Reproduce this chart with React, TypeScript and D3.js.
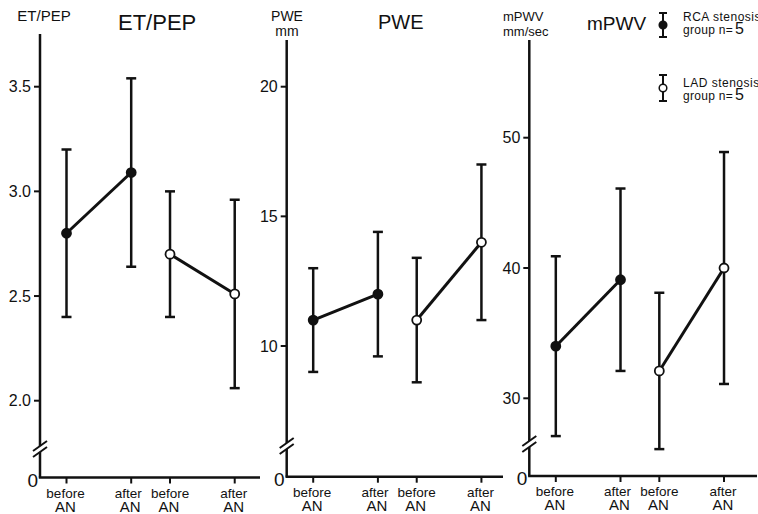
import React, { useRef, useEffect } from 'react';
import * as d3 from 'd3';

// point order in every panel: RCA before, RCA after, LAD before, LAD after
const groups = ['RCA', 'RCA', 'LAD', 'LAD'];
const xTopLabels = ['before', 'after', 'before', 'after'];
const xBottomLabel = 'AN';

const etpepMean = [2.8, 3.09, 2.7, 2.51];
const etpepSd = [0.4, 0.45, 0.3, 0.45];
const etpepTicks = [2.0, 2.5, 3.0, 3.5];

const pweMean = [11, 12, 11, 14];
const pweSd = [2.0, 2.4, 2.4, 3.0];
const pweTicks = [10, 15, 20];

const mpwvMean = [34, 39.1, 32.1, 40];
const mpwvSd = [6.9, 7.0, 6.0, 8.9];
const mpwvTicks = [30, 40, 50];

const legendNames = ['RCA stenosis', 'LAD stenosis'];
const legendN = ['group n=', '5'];

// horizontal slot of each point (before/after pairs sit closer between groups)
const slots = [0, 1, 1.6, 2.6];

const W = 758;
const H = 514;
const FONT = '"Liberation Sans", Arial, Helvetica, sans-serif';

const panels = [
  {
    title: 'ET/PEP', titleX: 118, titleY: 30, titleSize: 22,
    unit: ['ET/PEP'], unitX: 44, unitSize: 15, unitAnchor: 'middle',
    mean: etpepMean, sd: etpepSd, ticks: etpepTicks, fmt: '.1f',
    axisX: 40, axisTop: 34, axisEnd: 260, base: 477.5, breakY: 449,
    yDomain: [2.0, 3.5], yRange: [400.7, 86.7],
  },
  {
    title: 'PWE', titleX: 378, titleY: 29, titleSize: 20,
    unit: ['PWE', 'mm'], unitX: 287, unitSize: 14, unitAnchor: 'middle',
    mean: pweMean, sd: pweSd, ticks: pweTicks, fmt: 'd',
    axisX: 286.7, axisTop: 40, axisEnd: 503, base: 476.7, breakY: 446,
    yDomain: [10, 20], yRange: [346, 86.7],
  },
  {
    title: 'mPWV', titleX: 587, titleY: 29.5, titleSize: 19,
    unit: ['mPWV', 'mm/sec'], unitX: 503, unitSize: 13, unitAnchor: 'start',
    mean: mpwvMean, sd: mpwvSd, ticks: mpwvTicks, fmt: 'd',
    axisX: 529.3, axisTop: 40, axisEnd: 757, base: 476, breakY: 444,
    yDomain: [30, 50], yRange: [398.3, 137.7],
  },
];

const App = () => {
  const svgRef = useRef(null);

  useEffect(() => {
    document.body.style.margin = '0';
    const svg = d3.select(svgRef.current);
    svg.selectAll('*').remove();
    svg.append('rect').attr('width', W).attr('height', H).attr('fill', '#fff');

    panels.forEach(p => {
      const g = svg.append('g').attr('font-family', FONT).attr('fill', '#111');
      const y = d3.scaleLinear().domain(p.yDomain).range(p.yRange);
      const x = d3.scaleLinear().domain([0, 2.6])
        .range([p.axisX + 26.5, p.axisX + 26.5 + 2.6 * 64.7]);

      // titles
      g.append('text').attr('x', p.titleX).attr('y', p.titleY)
        .attr('font-size', p.titleSize).text(p.title);
      p.unit.forEach((u, i) => {
        g.append('text').attr('x', p.unitX).attr('y', 21 + i * 15)
          .attr('text-anchor', p.unitAnchor)
          .attr('font-size', p.unitSize).text(u);
      });

      // y axis with break
      const axis = g.append('g').attr('stroke', '#111').attr('stroke-width', 2.5).attr('fill', 'none');
      axis.append('line').attr('x1', p.axisX).attr('x2', p.axisX)
        .attr('y1', p.axisTop).attr('y2', p.breakY - 3);
      axis.append('line').attr('x1', p.axisX).attr('x2', p.axisX)
        .attr('y1', p.breakY + 3).attr('y2', p.base);
      [-3, 3].forEach(o => {
        axis.append('line').attr('stroke-width', 2)
          .attr('x1', p.axisX - 7).attr('y1', p.breakY + o + 5)
          .attr('x2', p.axisX + 7).attr('y2', p.breakY + o - 5);
      });
      // x axis
      axis.append('line').attr('x1', p.axisX - 1.2).attr('x2', p.axisEnd)
        .attr('y1', p.base).attr('y2', p.base);

      // y ticks
      const fmt = d3.format(p.fmt);
      p.ticks.forEach(t => {
        axis.append('line').attr('stroke-width', 2)
          .attr('x1', p.axisX - 6).attr('x2', p.axisX)
          .attr('y1', y(t)).attr('y2', y(t));
        g.append('text').attr('x', p.axisX - 9).attr('y', y(t)).attr('dy', '0.36em')
          .attr('text-anchor', 'end').attr('font-size', 16).text(fmt(t));
      });
      g.append('text').attr('x', p.axisX - 2).attr('y', p.base + 9)
        .attr('text-anchor', 'end').attr('font-size', 19).text('0');

      // x ticks and labels
      slots.forEach((s, i) => {
        axis.append('line').attr('stroke-width', 2)
          .attr('x1', x(s)).attr('x2', x(s))
          .attr('y1', p.base).attr('y2', p.base + 6);
        const dx = i === 1 ? -2 : i === 2 ? 1 : 0;
        g.append('text').attr('x', x(s) - 1 + dx).attr('y', p.base + 20)
          .attr('text-anchor', 'middle').attr('font-size', 13.5).text(xTopLabels[i]);
        g.append('text').attr('x', x(s) - 1).attr('y', p.base + 34)
          .attr('text-anchor', 'middle').attr('font-size', 15).text(xBottomLabel);
      });

      // error bars
      const bars = g.append('g').attr('stroke', '#111').attr('stroke-width', 2.5);
      slots.forEach((s, i) => {
        const lo = y(p.mean[i] - p.sd[i]);
        const hi = y(p.mean[i] + p.sd[i]);
        bars.append('line').attr('x1', x(s)).attr('x2', x(s)).attr('y1', lo).attr('y2', hi);
        [lo, hi].forEach(v => {
          bars.append('line').attr('x1', x(s) - 5).attr('x2', x(s) + 5).attr('y1', v).attr('y2', v);
        });
      });

      // connecting lines per group
      const line = d3.line<number>().x(i => x(slots[i])).y(i => y(p.mean[i]));
      [[0, 1], [2, 3]].forEach(pair => {
        g.append('path').attr('d', line(pair)).attr('fill', 'none')
          .attr('stroke', '#111').attr('stroke-width', 3);
      });

      // markers
      slots.forEach((s, i) => {
        g.append('circle').attr('cx', x(s)).attr('cy', y(p.mean[i])).attr('r', 4.5)
          .attr('fill', groups[i] === 'RCA' ? '#111' : '#fff')
          .attr('stroke', '#111').attr('stroke-width', 1.8);
      });
    });

    // legend
    const lg = svg.append('g').attr('font-family', FONT).attr('fill', '#111');
    const items = [
      { top: 13, bottom: 37, dot: 25, filled: true, textY: 21 },
      { top: 75, bottom: 101, dot: 88, filled: false, textY: 87 },
    ];
    items.forEach((it, k) => {
      const lx = 663;
      lg.append('line').attr('x1', lx).attr('x2', lx).attr('y1', it.top).attr('y2', it.bottom)
        .attr('stroke', '#111').attr('stroke-width', 2);
      [it.top, it.bottom].forEach(v => {
        lg.append('line').attr('x1', lx - 4).attr('x2', lx + 4).attr('y1', v).attr('y2', v)
          .attr('stroke', '#111').attr('stroke-width', 2);
      });
      lg.append('circle').attr('cx', lx).attr('cy', it.dot).attr('r', 3.8)
        .attr('fill', it.filled ? '#111' : '#fff').attr('stroke', '#111').attr('stroke-width', 1.5);
      lg.append('text').attr('x', 683).attr('y', it.textY)
        .attr('font-size', 12).attr('letter-spacing', 0.5).text(legendNames[k]);
      const t2 = lg.append('text').attr('x', 683).attr('y', it.textY + 12.5)
        .attr('font-size', 12).attr('letter-spacing', 0.3);
      t2.append('tspan').text(legendN[0]);
      t2.append('tspan').attr('font-size', 16).attr('dx', 2).text(legendN[1]);
    });
  }, []);

  return <svg ref={svgRef} width={W} height={H} style={{ display: 'block' }} />;
};

export default App;
